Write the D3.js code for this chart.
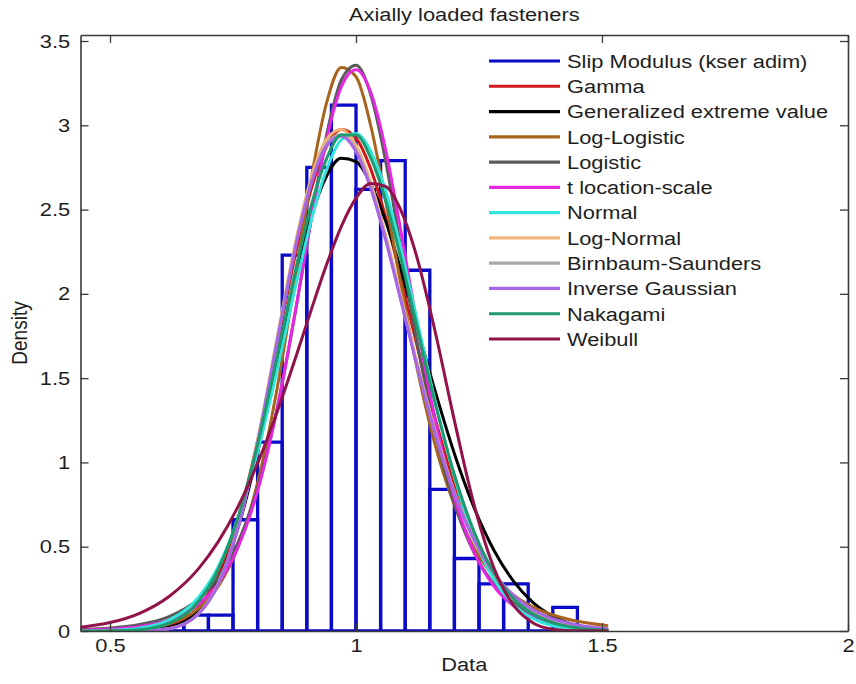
<!DOCTYPE html>
<html>
<head>
<meta charset="utf-8">
<script src="https://cdn.jsdelivr.net/npm/d3@7"></script>
<style>
  html, body { margin: 0; padding: 0; background: #ffffff; }
  svg { display: block; }
</style>
</head>
<body>
<svg id="chart" width="856" height="684"></svg>
<script>
// Histogram of the normalised slip modulus (density scale, bin width 0.05)
const binStarts = [0.60, 0.65, 0.70, 0.75, 0.80, 0.85, 0.90, 0.95, 1.00, 1.05, 1.10, 1.15, 1.20, 1.25, 1.30, 1.35, 1.40];
const binDensity = [0.047, 0.094, 0.094, 0.66, 1.12, 2.23, 2.75, 3.12, 2.62, 2.79, 2.14, 0.84, 0.43, 0.28, 0.28, 0, 0.14];
const binWidth = 0.05;

// Fitted densities, sampled at these abscissae
const gridX = [0.44, 0.50, 0.56, 0.62, 0.68, 0.72, 0.76, 0.80, 0.84, 0.88, 0.91, 0.94, 0.97, 1.00,
               1.03, 1.06, 1.09, 1.12, 1.16, 1.20, 1.24, 1.28, 1.32, 1.36, 1.40, 1.45, 1.51];

const gammaPdf = [0, 0.0002, 0.0032, 0.027, 0.140, 0.328, 0.653, 1.129, 1.703, 2.276, 2.632, 2.874, 2.975, 2.923,
                  2.740, 2.456, 2.109, 1.741, 1.270, 0.870, 0.561, 0.343, 0.199, 0.110, 0.058, 0.025, 0.008];
const gevPdf = [0, 0.0001, 0.002, 0.021, 0.121, 0.298, 0.609, 1.060, 1.601, 2.137, 2.468, 2.698, 2.804, 2.785,
                2.653, 2.434, 2.155, 1.847, 1.432, 1.052, 0.732, 0.481, 0.296, 0.168, 0.087, 0.031, 0.005];
const logLogisticPdf = [0.0007, 0.0032, 0.013, 0.044, 0.134, 0.265, 0.498, 0.880, 1.445, 2.159, 2.701, 3.131, 3.343, 3.288,
                        2.997, 2.559, 2.074, 1.617, 1.113, 0.746, 0.493, 0.325, 0.214, 0.142, 0.095, 0.058, 0.033];
const logisticPdf = [0.0077, 0.0173, 0.0386, 0.0858, 0.189, 0.318, 0.525, 0.849, 1.324, 1.947, 2.465, 2.940, 3.267, 3.356,
                     3.181, 2.792, 2.292, 1.780, 1.190, 0.755, 0.464, 0.279, 0.166, 0.098, 0.058, 0.030, 0.013];
const tLocationScalePdf = [0.0048, 0.0112, 0.0267, 0.0648, 0.158, 0.282, 0.494, 0.831, 1.322, 1.952, 2.458, 2.913, 3.227, 3.330,
                           3.196, 2.858, 2.392, 1.885, 1.266, 0.791, 0.468, 0.267, 0.149, 0.082, 0.045, 0.022, 0.009];
const normalPdf = [0.0007, 0.0038, 0.017, 0.065, 0.201, 0.382, 0.666, 1.063, 1.555, 2.082, 2.446, 2.736, 2.913, 2.951,
                   2.846, 2.613, 2.283, 1.898, 1.375, 0.913, 0.554, 0.309, 0.157, 0.073, 0.031, 0.0096, 0.0019];
const logNormalPdf = [0, 0, 0.0009, 0.014, 0.103, 0.282, 0.620, 1.129, 1.746, 2.347, 2.700, 2.917, 2.975, 2.881,
                      2.660, 2.353, 2.001, 1.639, 1.195, 0.825, 0.544, 0.343, 0.209, 0.123, 0.070, 0.033, 0.013];
const birnbaumSaundersPdf = [0, 0, 0.0009, 0.0137, 0.102, 0.279, 0.613, 1.117, 1.728, 2.323, 2.672, 2.887, 2.945, 2.852,
                             2.633, 2.329, 1.980, 1.622, 1.182, 0.817, 0.538, 0.340, 0.207, 0.121, 0.069, 0.033, 0.013];
const inverseGaussianPdf = [0, 0, 0.0009, 0.0137, 0.102, 0.278, 0.611, 1.114, 1.723, 2.316, 2.664, 2.878, 2.935, 2.843,
                            2.625, 2.322, 1.974, 1.617, 1.179, 0.815, 0.540, 0.345, 0.212, 0.126, 0.073, 0.036, 0.015];
const nakagamiPdf = [0.0001, 0.001, 0.008, 0.045, 0.175, 0.365, 0.673, 1.107, 1.633, 2.178, 2.535, 2.801, 2.942, 2.942,
                     2.806, 2.555, 2.224, 1.853, 1.360, 0.927, 0.588, 0.348, 0.192, 0.099, 0.048, 0.018, 0.005];
const weibullPdf = [0.022, 0.050, 0.105, 0.205, 0.370, 0.530, 0.737, 0.995, 1.302, 1.646, 1.914, 2.172, 2.399, 2.568,
                    2.655, 2.638, 2.504, 2.256, 1.787, 1.248, 0.749, 0.376, 0.153, 0.048, 0.011, 0.001, 0];

const histogramName = "Slip Modulus (kser adim)";
const fitNames = ["Gamma", "Generalized extreme value", "Log-Logistic", "Logistic", "t location-scale",
                  "Normal", "Log-Normal", "Birnbaum-Saunders", "Inverse Gaussian", "Nakagami", "Weibull"];
const fitValues = [gammaPdf, gevPdf, logLogisticPdf, logisticPdf, tLocationScalePdf,
                   normalPdf, logNormalPdf, birnbaumSaundersPdf, inverseGaussianPdf, nakagamiPdf, weibullPdf];
const histogramColor = "#0a0ac8";
const fitColors = ["#d01818", "#000000", "#a8641c", "#5a5a5a", "#e626e0",
                   "#30e6dc", "#f0b47a", "#a8a8a8", "#a866e6", "#1e9a6e", "#92124a"];

const xTicks = [0.5, 1, 1.5, 2];
const yTicks = [0, 0.5, 1, 1.5, 2, 2.5, 3, 3.5];
const titleText = "Axially loaded fasteners";
const xLabel = "Data";
const yLabel = "Density";

// ---- layout ----
const W = 856, H = 684;
const plot = { left: 80.5, right: 848, top: 35, bottom: 631 };
const FONT = "'Liberation Sans', Arial, Helvetica, sans-serif";
const FS = 19;
const SX = 1.15; // horizontal stretch of the lettering
const textColor = "#1e1e1e";
const axisColor = "#3a3a3a";

const svg = d3.select("#chart");
svg.append("rect").attr("width", W).attr("height", H).attr("fill", "#ffffff");

const x = d3.scaleLinear().domain([0.44, 2]).range([plot.left, plot.right]);
const y = d3.scaleLinear().domain([0, 3.5356]).range([plot.bottom, plot.top]);

svg.append("defs").append("clipPath").attr("id", "plotClip")
  .append("rect")
  .attr("x", plot.left).attr("y", plot.top - 2)
  .attr("width", plot.right - plot.left).attr("height", plot.bottom - plot.top + 2);

const data = svg.append("g").attr("clip-path", "url(#plotClip)");

// histogram bars as outlined columns
const bins = binStarts.map((b, i) => ({ x0: b, x1: b + binWidth, d: binDensity[i] }));
data.append("g")
  .selectAll("path")
  .data(bins)
  .join("path")
  .attr("d", b => {
    const p = d3.path();
    p.moveTo(x(b.x0), y(0));
    p.lineTo(x(b.x0), y(b.d));
    p.lineTo(x(b.x1), y(b.d));
    p.lineTo(x(b.x1), y(0));
    p.closePath();
    return p.toString();
  })
  .attr("fill", "none")
  .attr("stroke", histogramColor)
  .attr("stroke-width", 3.3)
  .attr("stroke-linejoin", "miter");

// fitted density curves
const line = d3.line()
  .x((d, i) => x(gridX[i]))
  .y(d => y(d))
  .curve(d3.curveMonotoneX);

data.append("g")
  .selectAll("path")
  .data(fitValues)
  .join("path")
  .attr("d", v => line(v))
  .attr("fill", "none")
  .attr("stroke", (v, i) => fitColors[i])
  .attr("stroke-width", 3)
  .attr("stroke-linejoin", "round")
  .attr("stroke-linecap", "round");

// ---- axes (box with inward ticks on all sides) ----
function styleAxis(g) {
  g.attr("font-family", FONT).attr("font-size", FS);
  g.select(".domain").attr("stroke", axisColor).attr("stroke-width", 1.6);
  g.selectAll(".tick line").attr("stroke", axisColor).attr("stroke-width", 1.3);
  g.selectAll(".tick text").attr("fill", textColor).attr("transform", `scale(${SX},1)`);
}

svg.append("g")
  .attr("transform", `translate(0,${plot.bottom})`)
  .call(d3.axisBottom(x).tickValues(xTicks).tickSize(-8).tickSizeOuter(0).tickPadding(8)
        .tickFormat(d => String(d)))
  .call(styleAxis);

svg.append("g")
  .attr("transform", `translate(0,${plot.top})`)
  .call(d3.axisTop(x).tickValues(xTicks).tickSize(-8).tickSizeOuter(0).tickFormat(""))
  .call(styleAxis);

svg.append("g")
  .attr("transform", `translate(${plot.left},0)`)
  .call(d3.axisLeft(y).tickValues(yTicks).tickSize(-8).tickSizeOuter(0).tickPadding(9)
        .tickFormat(d => String(d)))
  .call(styleAxis);

svg.append("g")
  .attr("transform", `translate(${plot.right},0)`)
  .call(d3.axisRight(y).tickValues(yTicks).tickSize(-8).tickSizeOuter(0).tickFormat(""))
  .call(styleAxis);

// ---- titles ----
function label(txt, px, py, anchor, rotate) {
  svg.append("text")
    .attr("transform", `translate(${px},${py}) scale(${SX},1)` + (rotate ? ` rotate(${rotate})` : ""))
    .attr("text-anchor", anchor)
    .attr("font-family", FONT)
    .attr("font-size", FS)
    .attr("fill", textColor)
    .text(txt);
}
const midX = (plot.left + plot.right) / 2;
label(titleText, midX, 21, "middle");
label(xLabel, midX, 671, "middle");
label(yLabel, 27, (plot.top + plot.bottom) / 2, "middle", -90);

// ---- legend ----
const legendNames = [histogramName].concat(fitNames);
const legendColors = [histogramColor].concat(fitColors);
const legendY = d3.scalePoint().domain(d3.range(legendNames.length)).range([61, 339]);
const legend = svg.append("g");
const items = legend.selectAll("g")
  .data(legendNames)
  .join("g")
  .attr("transform", (d, i) => `translate(0,${legendY(i)})`);
items.append("line")
  .attr("x1", 489).attr("x2", 560)
  .attr("stroke", (d, i) => legendColors[i])
  .attr("stroke-width", 3.2);
items.append("text")
  .attr("transform", `translate(567,0) scale(${SX},1)`)
  .attr("dy", "0.36em")
  .attr("font-family", FONT)
  .attr("font-size", FS)
  .attr("fill", textColor)
  .text(d => d);
</script>
</body>
</html>
